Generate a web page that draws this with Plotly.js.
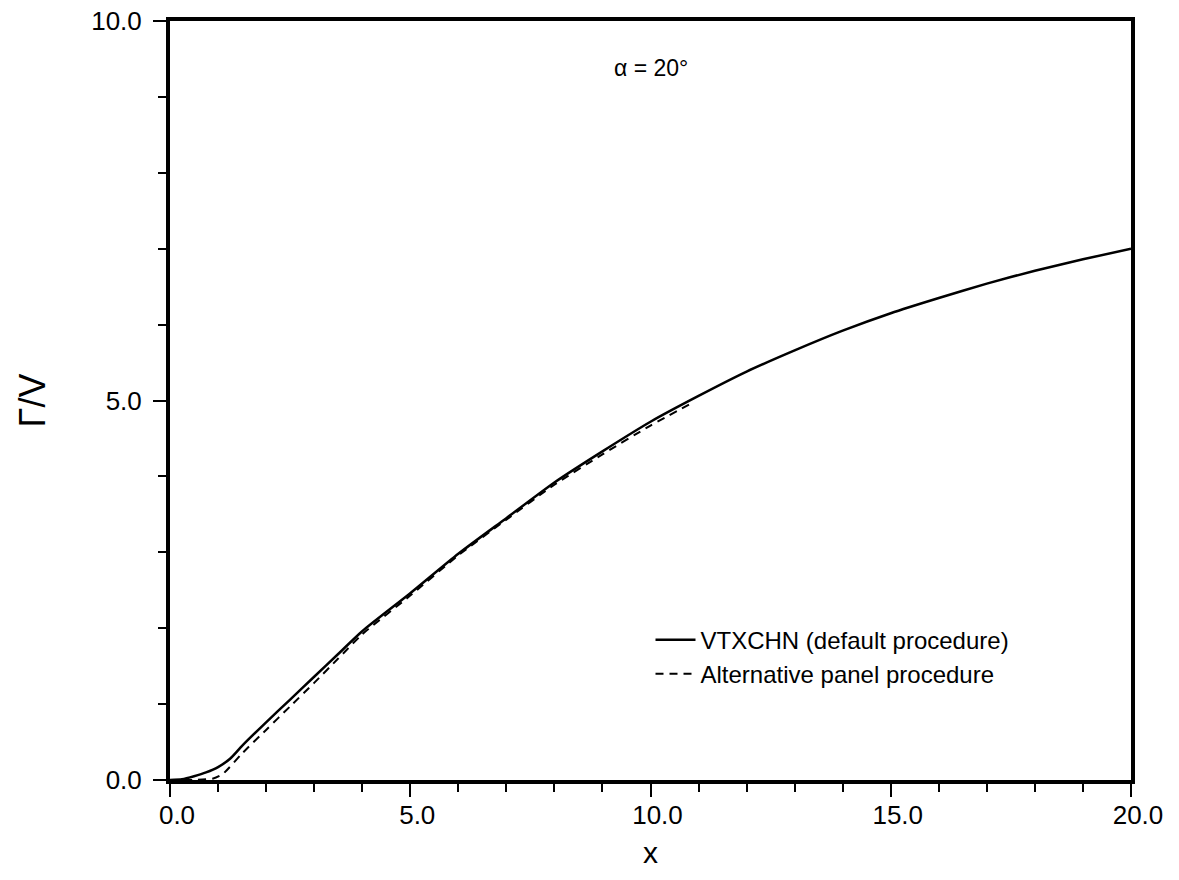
<!DOCTYPE html>
<html>
<head>
<meta charset="utf-8">
<script src="https://cdn.plot.ly/plotly-3.0.1.min.js"></script>
<style>
html,body{margin:0;padding:0;background:#fff;}
#chart{width:1179px;height:880px;}
</style>
</head>
<body>
<div id="chart"></div>
<script>
// VTXCHN (default procedure) - solid
var xDefault = [0, 0.25, 0.5, 0.75, 1.0, 1.25, 1.5, 2.0, 2.5, 3.0, 3.5, 4.0, 5.0, 6.0, 7.0, 8.0, 9.0, 10.0, 11.0, 12.0, 13.0, 14.0, 15.0, 16.0, 17.0, 18.0, 19.0, 20.0];
var yDefault = [0, 0.01, 0.05, 0.10, 0.17, 0.28, 0.45, 0.76, 1.06, 1.36, 1.66, 1.96, 2.46, 2.98, 3.45, 3.92, 4.33, 4.72, 5.06, 5.38, 5.66, 5.92, 6.15, 6.35, 6.54, 6.71, 6.86, 7.00];
// Alternative panel procedure - dashed
var xAlt = [0, 0.5, 0.9, 1.1, 1.5, 2.0, 2.5, 3.0, 3.5, 4.0, 5.0, 6.0, 7.0, 8.0, 9.0, 10.0, 10.9];
var yAlt = [0, 0.0, 0.02, 0.08, 0.35, 0.66, 0.97, 1.28, 1.60, 1.92, 2.43, 2.96, 3.43, 3.89, 4.29, 4.67, 4.98];
var seriesNames = ['VTXCHN (default procedure)', 'Alternative panel procedure'];
var annotationText = 'α = 20°';
var xTickVals = [0, 5, 10, 15, 20];
var xTickText = ['0.0', '5.0', '10.0', '15.0', '20.0'];
var yTickVals = [0, 5, 10];
var yTickText = ['0.0', '5.0', '10.0'];

var font = 'Liberation Sans, Arial, Helvetica, sans-serif';

var traces = [
  {x: xDefault, y: yDefault, mode: 'lines', name: seriesNames[0], line: {color: '#000', width: 2.5, shape: 'spline', smoothing: 0.6}},
  {x: xAlt, y: yAlt, mode: 'lines', name: seriesNames[1], line: {color: '#000', width: 2, dash: '8px,6px', shape: 'spline', smoothing: 0.6}}
];

var axisCommon = {
  showgrid: false, zeroline: false, showline: true, linecolor: '#000', linewidth: 4,
  mirror: true, ticks: 'outside', ticklen: 13, tickwidth: 2, tickcolor: '#000',
  tickfont: {family: font, size: 26, color: '#000'},
  minor: {dtick: 1, ticks: 'outside', ticklen: 8, tickwidth: 2, tickcolor: '#000', showgrid: false}
};

var layout = {
  width: 1179, height: 880,
  margin: {l: 170, r: 48, t: 21, b: 100},
  paper_bgcolor: '#fff', plot_bgcolor: '#fff',
  showlegend: true,
  legend: {x: 0.50, y: 0.214, xanchor: 'left', yanchor: 'top', bgcolor: 'rgba(0,0,0,0)',
           font: {family: font, size: 24, color: '#000'}, itemwidth: 40, tracegroupgap: 0},
  xaxis: Object.assign({}, axisCommon, {
    range: [0, 20], tickvals: xTickVals, ticktext: xTickText, ticklabelshift: 7, ticklabelstandoff: -4,
    title: {text: 'x', font: {family: font, size: 30, color: '#000'}, standoff: 14}
  }),
  yaxis: Object.assign({}, axisCommon, {
    range: [0, 10], tickvals: yTickVals, ticktext: yTickText, ticklabelstandoff: 6,
    title: {text: 'Γ/V', font: {family: font, size: 36, color: '#000'}, standoff: 36}
  }),
  annotations: [
    {text: annotationText, xref: 'paper', yref: 'paper', x: 0.5, y: 0.938, xanchor: 'center', yanchor: 'middle',
     showarrow: false, font: {family: font, size: 23, color: '#000'}}
  ]
};

Plotly.newPlot('chart', traces, layout, {displayModeBar: false, staticPlot: true});
</script>
</body>
</html>
